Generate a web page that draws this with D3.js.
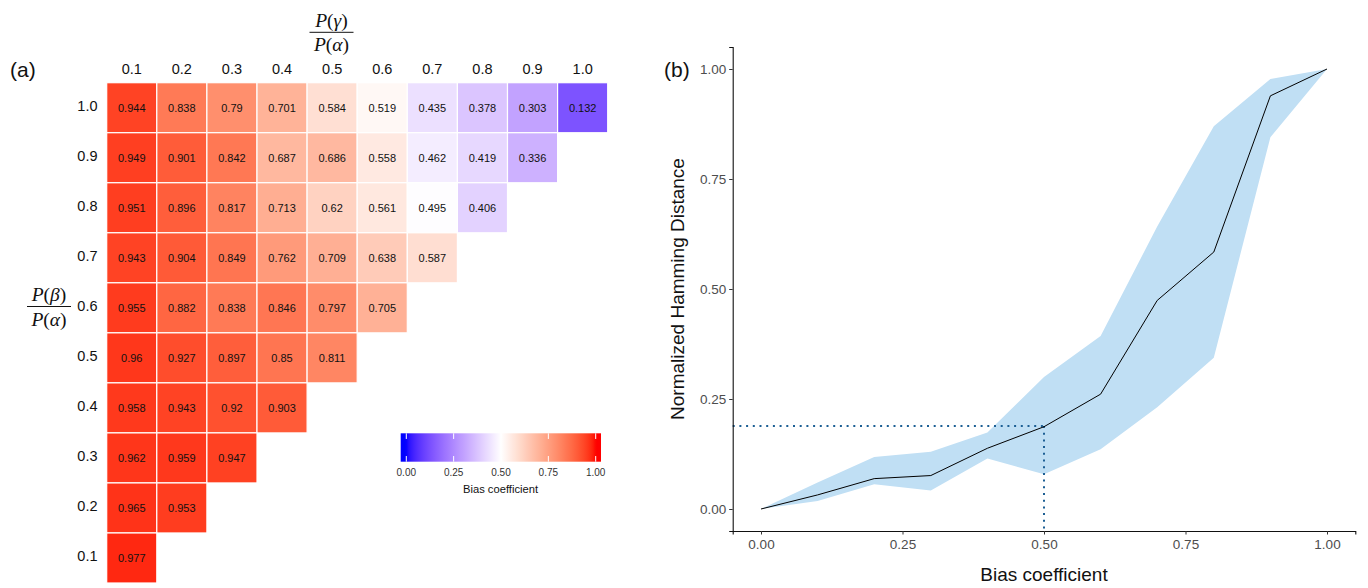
<!DOCTYPE html>
<html>
<head>
<meta charset="utf-8">
<script src="https://cdn.jsdelivr.net/npm/d3@7"></script>
<style>
  html, body { margin: 0; padding: 0; background: #fff; }
  svg { display: block; font-family: "Liberation Sans", Arial, Helvetica, sans-serif; }
</style>
</head>
<body>
<svg id="chart" width="1368" height="588"></svg>
<script>
// ---------------- DATA ----------------
const colLabels = ["0.1","0.2","0.3","0.4","0.5","0.6","0.7","0.8","0.9","1.0"];   // P(gamma)/P(alpha)
const rowLabels = ["1.0","0.9","0.8","0.7","0.6","0.5","0.4","0.3","0.2","0.1"];   // P(beta)/P(alpha), top to bottom
const row10 = [0.944, 0.838, 0.79, 0.701, 0.584, 0.519, 0.435, 0.378, 0.303, 0.132];
const row09 = [0.949, 0.901, 0.842, 0.687, 0.686, 0.558, 0.462, 0.419, 0.336];
const row08 = [0.951, 0.896, 0.817, 0.713, 0.62, 0.561, 0.495, 0.406];
const row07 = [0.943, 0.904, 0.849, 0.762, 0.709, 0.638, 0.587];
const row06 = [0.955, 0.882, 0.838, 0.846, 0.797, 0.705];
const row05 = [0.96, 0.927, 0.897, 0.85, 0.811];
const row04 = [0.958, 0.943, 0.92, 0.903];
const row03 = [0.962, 0.959, 0.947];
const row02 = [0.965, 0.953];
const row01 = [0.977];
const heatRows = [row10, row09, row08, row07, row06, row05, row04, row03, row02, row01];
const legendTicks = [0, 0.25, 0.5, 0.75, 1];

const biasX   = [0, 0.1, 0.2, 0.3, 0.4, 0.5, 0.6, 0.7, 0.8, 0.9, 1.0];
const hamMean = [0, 0.032, 0.069, 0.076, 0.138, 0.187, 0.261, 0.474, 0.584, 0.939, 1.0];
const hamLow  = [0, 0.018, 0.056, 0.042, 0.115, 0.079, 0.136, 0.231, 0.344, 0.845, 1.0];
const hamHigh = [0, 0.060, 0.118, 0.130, 0.174, 0.300, 0.393, 0.642, 0.870, 0.977, 1.0];
const markX = 0.5, markY = 0.1886;
const axisTicks = [0, 0.25, 0.5, 0.75, 1];

// ---------------- SETUP ----------------
const svg = d3.select("#chart");
svg.append("rect").attr("width", 1368).attr("height", 588).attr("fill", "#fff");

// colour scale: blue - white - red, midpoint 0.5, Lab interpolation
const loPal = d3.interpolateLab("#ffffff", "#0000ff");
const hiPal = d3.interpolateLab("#ffffff", "#ff0000");
function fillColor(v) {
  v = Math.max(0, Math.min(1, v));
  return v < 0.5 ? loPal((0.5 - v) / 0.5) : hiPal((v - 0.5) / 0.5);
}

// ---------------- PANEL (a) ----------------
const xBand = d3.scaleBand().domain(colLabels).range([106.7, 607.7]);
const yBand = d3.scaleBand().domain(rowLabels).range([82.7, 583.0]);

const cells = [];
heatRows.forEach((arr, ri) => arr.forEach((v, ci) => cells.push({ r: rowLabels[ri], c: colLabels[ci], v })));

const gA = svg.append("g");
gA.selectAll("rect.cell").data(cells).join("rect")
  .attr("class", "cell")
  .attr("x", d => xBand(d.c))
  .attr("y", d => yBand(d.r))
  .attr("width", xBand.bandwidth())
  .attr("height", yBand.bandwidth())
  .attr("fill", d => fillColor(d.v))
  .attr("stroke", "#fff")
  .attr("stroke-width", 1.2);

gA.selectAll("text.val").data(cells).join("text")
  .attr("class", "val")
  .attr("x", d => xBand(d.c) + xBand.bandwidth() / 2)
  .attr("y", d => yBand(d.r) + yBand.bandwidth() / 2)
  .attr("text-anchor", "middle")
  .attr("dominant-baseline", "central")
  .attr("font-size", 11)
  .attr("fill", "#111")
  .text(d => String(d.v));

// column labels (top)
gA.selectAll("text.col").data(colLabels).join("text")
  .attr("class", "col")
  .attr("x", d => xBand(d) + xBand.bandwidth() / 2)
  .attr("y", 68.5)
  .attr("text-anchor", "middle")
  .attr("dominant-baseline", "central")
  .attr("font-size", 14.5)
  .attr("fill", "#111")
  .text(d => d);

// row labels (left)
gA.selectAll("text.row").data(rowLabels).join("text")
  .attr("class", "row")
  .attr("x", 97.5)
  .attr("y", d => yBand(d) + yBand.bandwidth() / 2 - 2)
  .attr("text-anchor", "end")
  .attr("dominant-baseline", "central")
  .attr("font-size", 14.5)
  .attr("fill", "#111")
  .text(d => d);

// fraction labels (math style)
function fraction(g, cx, cyBar, numGreek, denGreek) {
  const fs = 19.5;
  const f = g.append("g").attr("font-family", "'Liberation Serif', 'DejaVu Serif', serif").attr("font-size", fs).attr("fill", "#111");
  const num = f.append("text").attr("x", cx).attr("y", cyBar - 5.5).attr("text-anchor", "middle");
  num.append("tspan").attr("font-style", "italic").text("P");
  num.append("tspan").text("(");
  num.append("tspan").attr("font-style", "italic").text(numGreek);
  num.append("tspan").text(")");
  const den = f.append("text").attr("x", cx).attr("y", cyBar + 19).attr("text-anchor", "middle");
  den.append("tspan").attr("font-style", "italic").text("P");
  den.append("tspan").text("(");
  den.append("tspan").attr("font-style", "italic").text(denGreek);
  den.append("tspan").text(")");
  f.append("line").attr("x1", cx - 22).attr("x2", cx + 22).attr("y1", cyBar).attr("y2", cyBar)
    .attr("stroke", "#111").attr("stroke-width", 1);
}
fraction(gA, 331.5, 32.3, "γ", "α");
fraction(gA, 49, 306.5, "β", "α");

// panel letter
svg.append("text").attr("x", 10).attr("y", 77).attr("font-size", 21).attr("fill", "#111").text("(a)");

// colour legend
const legX = d3.scaleLinear().domain([0, 1]).range([406.3, 595.7]);
const barL = 400.7, barR = 601, barT = 433.3, barB = 461.7;
const defs = svg.append("defs");
const grad = defs.append("linearGradient").attr("id", "biasGrad")
  .attr("gradientUnits", "userSpaceOnUse").attr("x1", barL).attr("x2", barR).attr("y1", 0).attr("y2", 0);
d3.range(0, 101).forEach(i => {
  const px = barL + (barR - barL) * i / 100;
  grad.append("stop").attr("offset", (i / 100)).attr("stop-color", fillColor(legX.invert(px)));
});
const gL = svg.append("g");
gL.append("rect").attr("x", barL).attr("y", barT).attr("width", barR - barL).attr("height", barB - barT)
  .attr("fill", "url(#biasGrad)");
const tl = (barB - barT) / 5;
legendTicks.forEach(t => {
  gL.append("line").attr("x1", legX(t)).attr("x2", legX(t)).attr("y1", barT).attr("y2", barT + tl)
    .attr("stroke", "#fff").attr("stroke-width", 1);
  gL.append("line").attr("x1", legX(t)).attr("x2", legX(t)).attr("y1", barB - tl).attr("y2", barB)
    .attr("stroke", "#fff").attr("stroke-width", 1);
});
gL.selectAll("text.lt").data(legendTicks).join("text")
  .attr("class", "lt")
  .attr("x", d => legX(d)).attr("y", 472.5)
  .attr("text-anchor", "middle").attr("dominant-baseline", "central")
  .attr("font-size", 10).attr("fill", "#333")
  .text(d => d3.format(".2f")(d));
gL.append("text").attr("x", 500.5).attr("y", 488.5)
  .attr("text-anchor", "middle").attr("dominant-baseline", "central")
  .attr("font-size", 11.2).attr("fill", "#111").text("Bias coefficient");

// ---------------- PANEL (b) ----------------
const x = d3.scaleLinear().domain([-0.05, 1.05]).range([732.7, 1355.3]);
const y = d3.scaleLinear().domain([-0.05, 1.05]).range([531, 47]);
const pts = biasX.map((b, i) => ({ b, m: hamMean[i], lo: hamLow[i], hi: hamHigh[i] }));

const gB = svg.append("g");
gB.append("path").datum(pts)
  .attr("d", d3.area().x(d => x(d.b)).y0(d => y(d.lo)).y1(d => y(d.hi)))
  .attr("fill", "#c0dff4").attr("stroke", "none");

// dotted reference lines
const dotColor = "#1c5f94";
gB.append("line").attr("x1", x(-0.05)).attr("x2", x(markX)).attr("y1", y(markY)).attr("y2", y(markY))
  .attr("stroke", dotColor).attr("stroke-width", 2).attr("stroke-dasharray", "2,4.7");
gB.append("line").attr("x1", x(markX)).attr("x2", x(markX)).attr("y1", y(markY)).attr("y2", y(-0.05))
  .attr("stroke", dotColor).attr("stroke-width", 2).attr("stroke-dasharray", "2,4.7");

gB.append("path").datum(pts)
  .attr("d", d3.line().x(d => x(d.b)).y(d => y(d.m)))
  .attr("fill", "none").attr("stroke", "#000").attr("stroke-width", 1);

// axes
const yAxis = d3.axisLeft(y).tickValues(axisTicks).tickFormat(d3.format(".2f")).tickSize(3.5).tickPadding(3);
const xAxis = d3.axisBottom(x).tickValues(axisTicks).tickFormat(d3.format(".2f")).tickSize(3.5).tickPadding(5);
const gy = gB.append("g").attr("transform", `translate(${x(-0.05)},0)`).call(yAxis);
const gx = gB.append("g").attr("transform", `translate(0,${y(-0.05)})`).call(xAxis);
[gx, gy].forEach(g => {
  g.select(".domain").attr("stroke", "#111").attr("stroke-width", 1.1);
  g.selectAll(".tick line").attr("stroke", "#333");
  g.selectAll(".tick text").attr("fill", "#4d4d4d").attr("font-size", 13.5)
    .attr("font-family", "'Liberation Sans', Arial, sans-serif");
});

gB.append("text").attr("x", x(0.5)).attr("y", 581)
  .attr("text-anchor", "middle").attr("font-size", 19).attr("fill", "#111").text("Bias coefficient");
gB.append("text").attr("transform", `translate(683.5,${y(0.5)}) rotate(-90)`)
  .attr("text-anchor", "middle").attr("font-size", 19).attr("fill", "#111").text("Normalized Hamming Distance");

svg.append("text").attr("x", 664).attr("y", 77).attr("font-size", 21).attr("fill", "#111").text("(b)");
</script>
</body>
</html>
